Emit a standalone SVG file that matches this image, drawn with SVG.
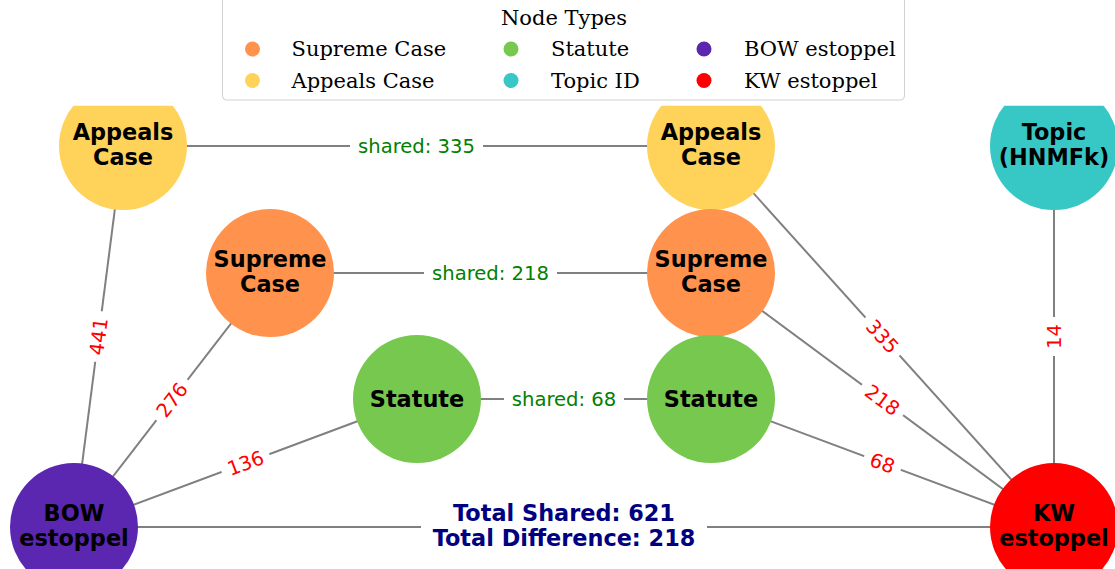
<svg xmlns="http://www.w3.org/2000/svg" width="1115" height="569" viewBox="0 0 1115 569">
  <style>
    .edge { stroke: #808080; stroke-width: 2; fill: none; }
    .lblbox { fill: #ffffff; }
    .num { font-family: "DejaVu Sans", sans-serif; font-size: 19.6px; fill: #ff0000; text-anchor: middle; }
    .shared { font-family: "DejaVu Sans", sans-serif; font-size: 19.6px; fill: #008000; text-anchor: middle; }
    .node-label { font-family: "DejaVu Sans", sans-serif; font-size: 22.4px; font-weight: bold; fill: #000000; text-anchor: middle; }
    .total { font-family: "DejaVu Sans", sans-serif; font-size: 22.4px; font-weight: bold; fill: #000080; text-anchor: middle; }
    .legend-text { font-family: "DejaVu Serif", serif; font-size: 21px; fill: #000000; }
    .appeals { fill: #ffd25a; }
    .supreme { fill: #ff924d; }
    .statute { fill: #76c84e; }
    .topic { fill: #37c8c5; }
    .bow { fill: #5b26b0; }
    .kw { fill: #ff0000; }
  </style>
  <defs>
    <clipPath id="plotArea">
      <rect x="0" y="105.7" width="1115" height="470"/>
    </clipPath>
  </defs>

  <rect width="1115" height="569" fill="#ffffff"/>

  <g clip-path="url(#plotArea)">
    <!-- connectors -->
    <g id="connectors">
      <line class="edge" x1="123" y1="146" x2="711" y2="146"/>
      <line class="edge" x1="270" y1="273" x2="711" y2="273"/>
      <line class="edge" x1="417" y1="399" x2="711" y2="399"/>
      <line class="edge" x1="74" y1="527" x2="123" y2="146"/>
      <line class="edge" x1="74" y1="527" x2="270" y2="273"/>
      <line class="edge" x1="74" y1="527" x2="417" y2="399"/>
      <line class="edge" x1="74" y1="527" x2="1054" y2="527"/>
      <line class="edge" x1="1054" y1="527" x2="711" y2="146"/>
      <line class="edge" x1="1054" y1="527" x2="711" y2="273"/>
      <line class="edge" x1="1054" y1="527" x2="711" y2="399"/>
      <line class="edge" x1="1054" y1="527" x2="1054" y2="146"/>

      <!-- shared counts between matching node types -->
      <g transform="translate(416.5,146)">
        <rect class="lblbox" x="-66.5" y="-14" width="133" height="28"/>
        <text class="shared" y="7">shared: 335</text>
      </g>
      <g transform="translate(490.5,273)">
        <rect class="lblbox" x="-66.5" y="-14" width="133" height="28"/>
        <text class="shared" y="7">shared: 218</text>
      </g>
      <g transform="translate(564,399)">
        <rect class="lblbox" x="-60" y="-14" width="120" height="28"/>
        <text class="shared" y="7">shared: 68</text>
      </g>

      <!-- counts on BOW estoppel links -->
      <g transform="translate(98.5,336.5) rotate(-82.67)">
        <rect class="lblbox" x="-25.5" y="-14" width="51" height="28"/>
        <text class="num" y="7">441</text>
      </g>
      <g transform="translate(172,400) rotate(-52.35)">
        <rect class="lblbox" x="-25.5" y="-14" width="51" height="28"/>
        <text class="num" y="7">276</text>
      </g>
      <g transform="translate(245.5,463) rotate(-20.46)">
        <rect class="lblbox" x="-25.5" y="-14" width="51" height="28"/>
        <text class="num" y="7">136</text>
      </g>

      <!-- counts on KW estoppel links -->
      <g transform="translate(882.5,336.5) rotate(47.99)">
        <rect class="lblbox" x="-25.5" y="-14" width="51" height="28"/>
        <text class="num" y="7">335</text>
      </g>
      <g transform="translate(882.5,400) rotate(36.52)">
        <rect class="lblbox" x="-25.5" y="-14" width="51" height="28"/>
        <text class="num" y="7">218</text>
      </g>
      <g transform="translate(882.5,463) rotate(20.46)">
        <rect class="lblbox" x="-19.5" y="-14" width="39" height="28"/>
        <text class="num" y="7">68</text>
      </g>
      <g transform="translate(1054,336.5) rotate(-90)">
        <rect class="lblbox" x="-19.5" y="-14" width="39" height="28"/>
        <text class="num" y="7">14</text>
      </g>

      <!-- totals on the BOW / KW link -->
      <g transform="translate(564,527)">
        <rect class="lblbox" x="-143" y="-30" width="286" height="60"/>
        <text class="total" y="-6">Total Shared: 621</text>
        <text class="total" y="19">Total Difference: 218</text>
      </g>
    </g>

    <!-- nodes -->
    <g id="appeals-left">
      <circle class="appeals" cx="123" cy="146" r="64"/>
      <text class="node-label" x="123" y="140">Appeals</text>
      <text class="node-label" x="123" y="165">Case</text>
    </g>
    <g id="appeals-right">
      <circle class="appeals" cx="711" cy="146" r="64"/>
      <text class="node-label" x="711" y="140">Appeals</text>
      <text class="node-label" x="711" y="165">Case</text>
    </g>
    <g id="supreme-left">
      <circle class="supreme" cx="270" cy="273" r="64"/>
      <text class="node-label" x="270" y="267">Supreme</text>
      <text class="node-label" x="270" y="292">Case</text>
    </g>
    <g id="supreme-right">
      <circle class="supreme" cx="711" cy="273" r="64"/>
      <text class="node-label" x="711" y="267">Supreme</text>
      <text class="node-label" x="711" y="292">Case</text>
    </g>
    <g id="statute-left">
      <circle class="statute" cx="417" cy="399" r="64"/>
      <text class="node-label" x="417" y="407">Statute</text>
    </g>
    <g id="statute-right">
      <circle class="statute" cx="711" cy="399" r="64"/>
      <text class="node-label" x="711" y="407">Statute</text>
    </g>
    <g id="topic">
      <circle class="topic" cx="1054" cy="146" r="64"/>
      <text class="node-label" x="1054" y="140">Topic</text>
      <text class="node-label" x="1054" y="165">(HNMFk)</text>
    </g>
    <g id="bow-estoppel">
      <circle class="bow" cx="74" cy="527" r="64"/>
      <text class="node-label" x="74" y="521">BOW</text>
      <text class="node-label" x="74" y="546">estoppel</text>
    </g>
    <g id="kw-estoppel">
      <circle class="kw" cx="1054" cy="527" r="64"/>
      <text class="node-label" x="1054" y="521">KW</text>
      <text class="node-label" x="1054" y="546">estoppel</text>
    </g>
  </g>

  <!-- legend -->
  <g id="legend">
    <rect x="222.5" y="-10" width="682" height="110" rx="4" ry="4" fill="#ffffff" fill-opacity="0.8" stroke="#d0d0d0" stroke-width="1"/>
    <text class="legend-text" x="564" y="25" text-anchor="middle">Node Types</text>
    <circle class="supreme" cx="252.5" cy="49" r="7.5"/>
    <text class="legend-text" x="291.5" y="56">Supreme Case</text>
    <circle class="appeals" cx="252.5" cy="80.5" r="7.5"/>
    <text class="legend-text" x="291.5" y="87.5">Appeals Case</text>
    <circle class="statute" cx="511" cy="49" r="7.5"/>
    <text class="legend-text" x="551" y="56">Statute</text>
    <circle class="topic" cx="511" cy="80.5" r="7.5"/>
    <text class="legend-text" x="551" y="87.5">Topic ID</text>
    <circle class="bow" cx="704" cy="49" r="7.5"/>
    <text class="legend-text" x="744" y="56">BOW estoppel</text>
    <circle class="kw" cx="704" cy="80.5" r="7.5"/>
    <text class="legend-text" x="744" y="87.5">KW estoppel</text>
  </g>
</svg>
